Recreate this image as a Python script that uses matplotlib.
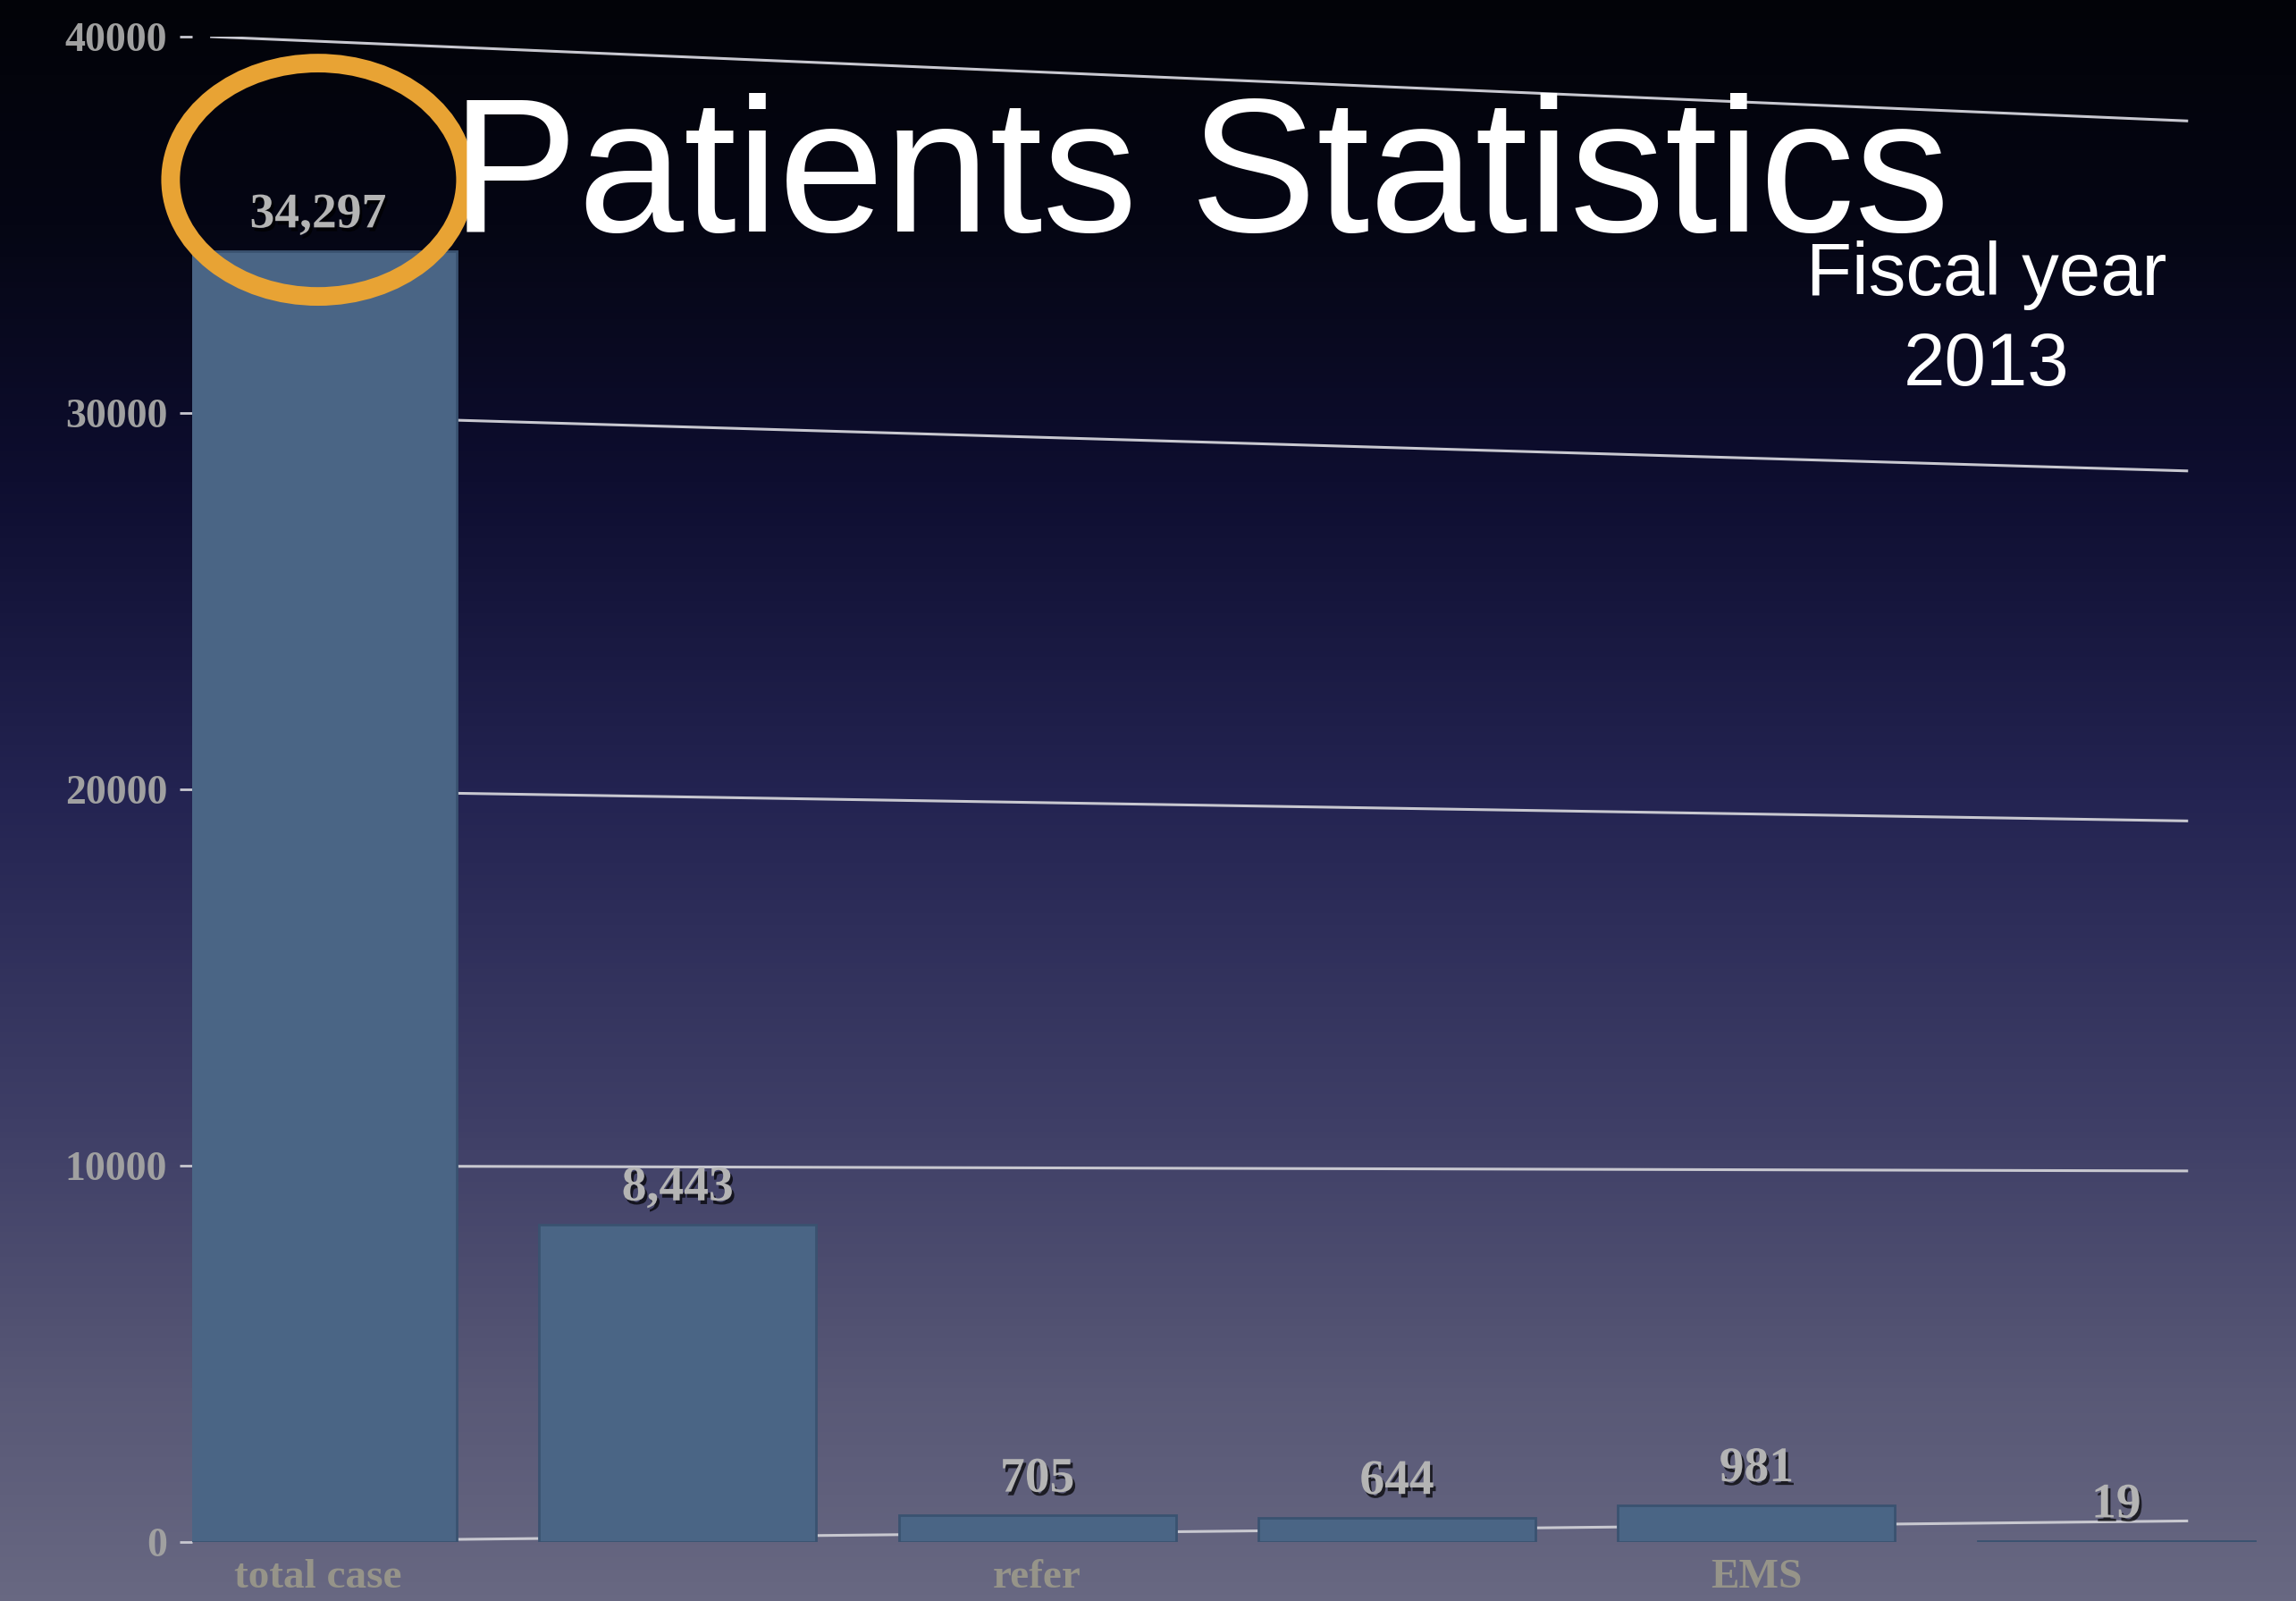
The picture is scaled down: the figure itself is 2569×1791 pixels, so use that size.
import numpy as np
import matplotlib
matplotlib.use("Agg")
import matplotlib.pyplot as plt
import matplotlib.patheffects as pe
from matplotlib.patches import Ellipse
from matplotlib.colors import LinearSegmentedColormap

# data
categories = ["total case", "", "refer", "", "EMS", ""]
values = [34297, 8443, 705, 644, 981, 19]
value_labels = ["34,297", "8,443", "705", "644", "981", "19"]
yticks = [0, 10000, 20000, 30000, 40000]

W, H, DPI = 2569, 1791, 100
fig = plt.figure(figsize=(W / DPI, H / DPI), dpi=DPI)

# slide background: black at top fading to grey-lavender at bottom
bg = fig.add_axes([0, 0, 1, 1], zorder=-10)
cmap = LinearSegmentedColormap.from_list("slide", [
    (0.00, (2/255, 3/255, 8/255)),
    (0.14, (5/255, 6/255, 20/255)),
    (0.30, (14/255, 14/255, 48/255)),
    (0.50, (36/255, 36/255, 82/255)),
    (0.70, (62/255, 62/255, 102/255)),
    (0.87, (88/255, 88/255, 118/255)),
    (1.00, (104/255, 104/255, 130/255)),
])
grad = np.linspace(0, 1, 512).reshape(-1, 1)
bg.imshow(grad, cmap=cmap, aspect="auto", extent=[0, 1, 0, 1], origin="upper")
bg.axis("off")

ax = fig.add_axes([215 / W, 66 / H, (W - 215) / W, 1684 / H])
ax.set_facecolor("none")
x = np.arange(len(values))

# slanted gridlines (perspective of the original 3D chart)
for v in yticks:
    drop = (v - 8000) * 0.07
    ax.plot([-0.3, 5.2], [v, v - drop], color="#c8c8d0", lw=2.2, zorder=1,
            solid_capstyle="butt")

ax.bar(x, values, width=0.77, color="#4a6585", edgecolor="#3a5270",
       linewidth=2, zorder=3)

shadow = [pe.withSimplePatchShadow(offset=(2, -3), shadow_rgbFace="black", alpha=0.7)]
for xi, v, lab in zip(x, values, value_labels):
    ax.text(xi, v + 350, lab, ha="center", va="bottom", fontsize=40,
            family="Liberation Serif", fontweight="bold", color="#b4b4b4",
            path_effects=shadow, zorder=5)

ax.set_xlim(-0.35, 5.5)
ax.set_ylim(0, 40000)
ax.set_yticks(yticks)
ax.set_yticklabels([str(t) for t in yticks], family="Liberation Serif",
                   fontweight="bold", fontsize=33, color="#a0a0a0")
ax.tick_params(axis="y", length=10, width=2, color="#c8c8d0", pad=10)
ax.set_xticks(x)
ax.set_xticklabels(categories, family="Liberation Serif", fontweight="bold",
                   fontsize=34, color="#969489")
ax.tick_params(axis="x", length=0, pad=14)
for s in ax.spines.values():
    s.set_visible(False)

# orange highlight round the biggest value
ring = Ellipse((0.0, values[0] + 1900), width=0.82, height=6200,
               fill=False, edgecolor="#e8a334", lw=15, zorder=6, clip_on=False)
ax.add_patch(ring)

fig.text(505 / W, 1 - 259 / H, "Patients Statistics", family="Liberation Sans",
         fontsize=153, color="white", ha="left", va="baseline")
fig.text(2223 / W, 1 - 330 / H, "Fiscal year", family="Liberation Sans",
         fontsize=60, color="white", ha="center", va="baseline")
fig.text(2223 / W, 1 - 431 / H, "2013", family="Liberation Sans",
         fontsize=60, color="white", ha="center", va="baseline")

fig.savefig("out.png", dpi=DPI)
